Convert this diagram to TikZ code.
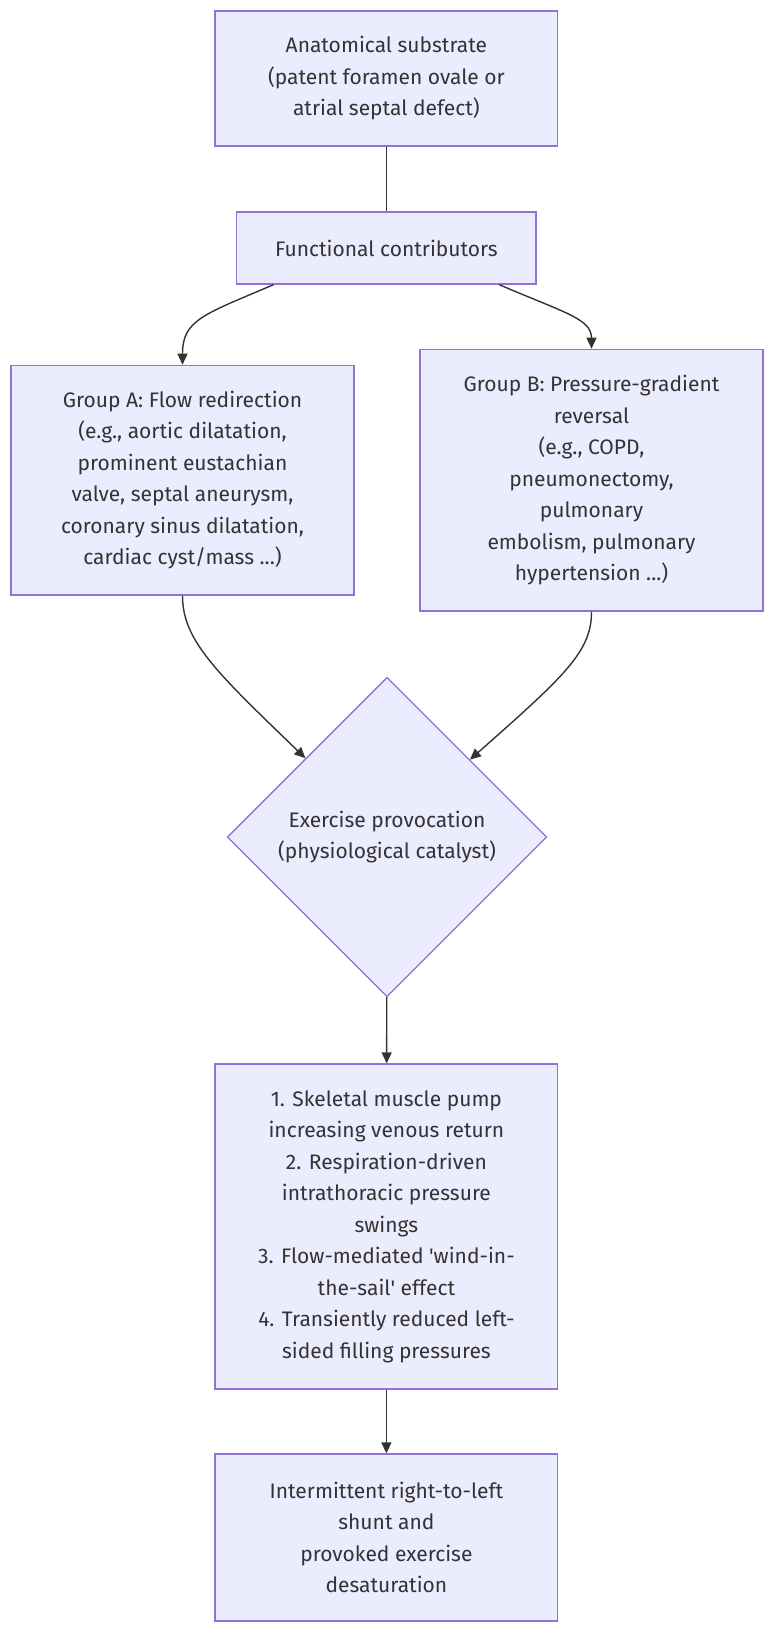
\documentclass[tikz,border=0pt]{standalone}
\usepackage{fontspec}
\setmainfont{Fira Sans}
\usetikzlibrary{shapes.geometric,arrows.meta}
\definecolor{nodefill}{HTML}{ECECFF}
\definecolor{nodeline}{HTML}{9370DB}
\definecolor{edgec}{HTML}{333333}
\definecolor{textc}{HTML}{333333}
\font\aposfont="Fira Sans" at 21pt
\newcommand{\sq}{{\aposfont\char"27}}
\begin{document}
\begin{tikzpicture}[x=1pt,y=-1pt,
  box/.style={draw=nodeline, fill=nodefill, line width=1.3pt, inner sep=0pt, align=center,
    text=textc, font=\fontsize{21}{31.5}\selectfont},
  dia/.style={diamond, aspect=1, draw=nodeline, fill=nodefill, line width=1.3pt, inner sep=0pt,
    align=center, text=textc, font=\fontsize{21}{31.5}\selectfont,
    minimum width=319.4pt, minimum height=319.4pt},
  link/.style={draw=edgec, line width=1.4pt},
  arr/.style={link, -{Triangle[length=11pt,width=10pt]}}]
\useasboundingbox (0,0) rectangle (775,1638);

\node[box, minimum width=342.7pt, minimum height=135pt] (sub) at (386.4,78.5)
  {Anatomical substrate\\(patent foramen ovale or\\atrial septal defect)};
\node[box, minimum width=299.3pt, minimum height=72pt] (func) at (386.4,248)
  {Functional contributors};
\node[box, minimum width=343pt, minimum height=229.7pt] (grpA) at (182.5,480.2)
  {Group A: Flow redirection\\(e.g., aortic dilatation,\\prominent eustachian\\valve, septal aneurysm,\\coronary sinus dilatation,\\cardiac cyst/mass ...)};
\node[box, minimum width=343pt, minimum height=261.7pt] (grpB) at (591.5,480.2)
  {Group B: Pressure-gradient\\reversal\\(e.g., COPD,\\pneumonectomy,\\pulmonary\\embolism, pulmonary\\hypertension ...)};
\node[dia] (exer) at (387,837)
  {Exercise provocation\\(physiological catalyst)};
\node[box, minimum width=342.7pt, minimum height=325pt] (mech) at (386.4,1226.5)
  {1. Skeletal muscle pump\\increasing venous return\\2. Respiration-driven\\intrathoracic pressure\\swings\\3. Flow-mediated \sq wind-in-\\the-sail\sq{} effect\\4. Transiently reduced left-\\sided filling pressures};
\node[box, minimum width=342.7pt, minimum height=167pt] (out) at (386.4,1537.5)
  {Intermittent right-to-left\\shunt and\\provoked exercise\\desaturation};

\draw[link] (sub) -- (func);
\draw[arr] (func.198.5) .. controls +(-70,30) and +(0,-45) .. (grpA.north);
\draw[arr] (func.-18.3) .. controls +(65,28) and +(0,-30) .. (grpB.north);
\draw[arr] (grpA.south) .. controls +(0,45) and +(-89,-86) .. (exer.136.4);
\draw[arr] (grpB.south) .. controls +(0,40) and +(95,-84) .. (exer.43.6);
\draw[arr] (exer) -- (mech);
\draw[arr] (mech) -- (out);
\end{tikzpicture}
\end{document}
